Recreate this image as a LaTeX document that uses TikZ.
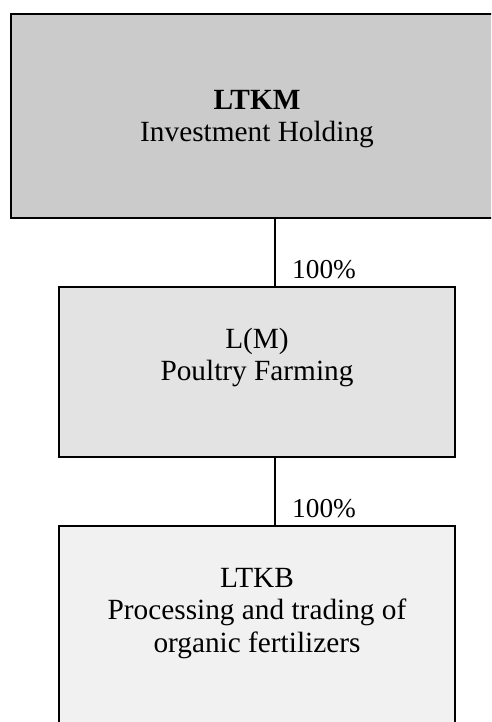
\documentclass[tikz,border=0pt]{standalone}
\usepackage{fontspec}
\setmainfont{Liberation Serif}
\definecolor{fillA}{HTML}{CBCBCB}
\definecolor{fillB}{HTML}{E3E3E3}
\definecolor{fillC}{HTML}{F1F1F1}
\begin{document}
\begin{tikzpicture}[x=1pt,y=-1pt,
  box/.style={draw=black, line width=2pt, rectangle, inner sep=0pt},
  txt/.style={anchor=base, inner sep=0pt, font=\fontsize{29.3}{32.5}\selectfont},
  pct/.style={anchor=base west, inner sep=0pt, font=\fontsize{27.3}{32.5}\selectfont},
  conn/.style={draw=black, line width=2pt}]
\useasboundingbox (0,0) rectangle (491,722);
\clip (0,0) rectangle (491,722);
% boxes
\node[box, fill=fillA, minimum width=492pt, minimum height=203.5pt] (top) at (257,115.75) {};
\node[box, fill=fillB, minimum width=396pt, minimum height=170pt] (mid) at (257,372) {};
\node[box, fill=fillC, minimum width=396pt, minimum height=210pt] (bot) at (257,631) {};
% texts
\node[txt] (topa) at (257,110) {\textbf{LTKM}};
\node[txt] (topb) at (257,142) {Investment Holding};
\node[txt] (mida) at (257,348) {L(M)};
\node[txt] (midb) at (257,380) {Poultry Farming};
\node[txt] (bota) at (257,587) {LTKB};
\node[txt] (botb) at (257,619) {Processing and trading of};
\node[txt] (botc) at (257,652) {organic fertilizers};
% connectors
\coordinate (cx) at (275,0);
\draw[conn] (top.south -| cx) -- (mid.north -| cx);
\draw[conn] (mid.south -| cx) -- (bot.north -| cx);
\node[pct] (p1) at (292,278.5) {100\%};
\node[pct] (p2) at (292,517.5) {100\%};
\end{tikzpicture}
\end{document}
